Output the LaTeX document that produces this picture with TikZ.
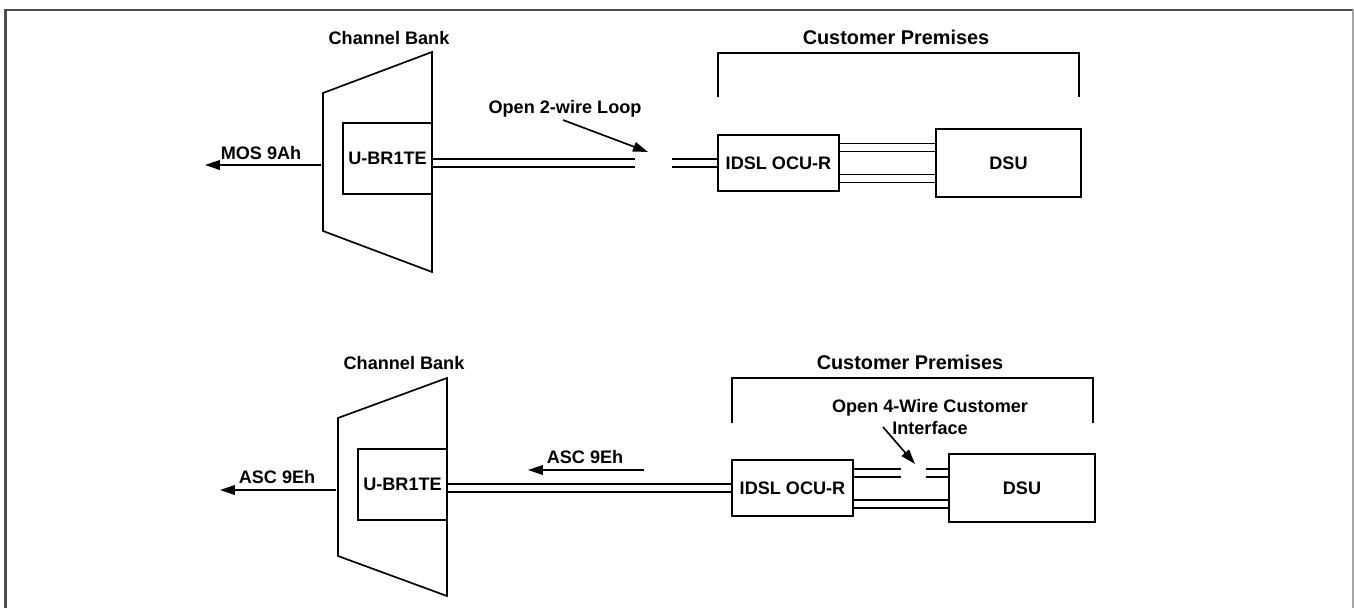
\documentclass[tikz,border=0pt]{standalone}
\usepackage{fontspec}
\setmainfont{Liberation Sans}
\usetikzlibrary{arrows.meta}

\begin{document}
\begin{tikzpicture}[x=0.02cm, y=-0.02cm, line width=0.95pt,
  lbl/.style={font=\fontsize{10.3}{12}\selectfont\bfseries, inner sep=0pt, align=center},
  head/.style={font=\fontsize{11.3}{13}\selectfont\bfseries, inner sep=0pt},
  box/.style={draw, rectangle, inner sep=0pt, font=\fontsize{10.3}{12}\selectfont\bfseries},
  sig/.style={-{Triangle[length=8.5pt,width=5.5pt]}}]
\useasboundingbox (0,0) rectangle (1354,608);

% frame
\draw[line width=1.2pt, black!70] (5.5,608) -- (5.5,10) -- (1353,10);
\draw[line width=1pt, black!35] (1353,10) -- (1353,608);

% ---- top: open 2-wire loop
\draw (323,93) -- (432,52) -- (432,272) -- (323,231) -- cycle;
\node (bank1) at (389,38) [lbl]{Channel Bank};
\node (ubr1) at (387.5,158.5) [box, minimum width=1.78cm, minimum height=1.42cm]{U-BR1TE};
\node (ocu1) at (778.5,163) [box, minimum width=2.42cm, minimum height=1.12cm]{IDSL OCU-R};
\node (dsu1) at (1008.5,163) [box, minimum width=2.9cm, minimum height=1.36cm]{DSU};

\coordinate (cut1a) at (635,163);
\coordinate (cut1b) at (672,163);
\foreach \s in {-4,4} {
  \draw ([yshift=\s*0.02cm]ubr1.east |- cut1a) -- ([yshift=\s*0.02cm]cut1a);
  \draw ([yshift=\s*0.02cm]cut1b) -- ([yshift=\s*0.02cm]ocu1.west);
}
\foreach \s in {-19.5,-11.5,11.5,19.5}
  \draw ([yshift=\s*0.02cm]ocu1.east) -- ([yshift=\s*0.02cm]dsu1.west |- ocu1.east);

\coordinate (mos1s) at (321,165);
\coordinate (mos1e) at (205,165);
\draw[sig] (mos1s) -- (mos1e);
\node (mos1) at (261,153) [lbl]{MOS 9Ah};

\node (loop1) at (565,109) [lbl]{Open 2-wire Loop};
\coordinate (loop1s) at (563,120);
\coordinate (loop1e) at (648,152);
\draw[sig] (loop1s) -- (loop1e);

\draw (718,97) -- (718,53) -- (1079,53) -- (1079,97);
\node (prem1) at (896,37) [head]{Customer Premises};

% ---- bottom: open 4-wire customer interface
\draw (338,418) -- (447,378) -- (447,596) -- (338,556) -- cycle;
\node (bank2) at (404,363) [lbl]{Channel Bank};
\node (ubr2) at (402.5,484.5) [box, minimum width=1.78cm, minimum height=1.42cm]{U-BR1TE};
\node (ocu2) at (792.5,488) [box, minimum width=2.42cm, minimum height=1.12cm]{IDSL OCU-R};
\node (dsu2) at (1022,488) [box, minimum width=2.92cm, minimum height=1.36cm]{DSU};

\coordinate (cut2a) at (901,473);
\coordinate (cut2b) at (926,473);
\foreach \s in {-4,4} {
  \draw ([yshift=\s*0.02cm]ubr2.east |- ocu2.west) -- ([yshift=\s*0.02cm]ocu2.west);
  \draw ([yshift=\s*0.02cm]ocu2.east |- cut2a) -- ([yshift=\s*0.02cm]cut2a);
  \draw ([yshift=\s*0.02cm]cut2b) -- ([yshift=\s*0.02cm]dsu2.west |- cut2b);
}
\foreach \s in {-12,-20}
  \draw ([yshift=\s*0.02cm]ocu2.east) -- ([yshift=\s*0.02cm]dsu2.west |- ocu2.east);

\coordinate (asc2s) at (336,490);
\coordinate (asc2e) at (220,490);
\draw[sig] (asc2s) -- (asc2e);
\node (asc2) at (277,477) [lbl]{ASC 9Eh};

\coordinate (asc3s) at (644,470);
\coordinate (asc3e) at (528,470);
\draw[sig] (asc3s) -- (asc3e);
\node (asc3) at (585,457) [lbl]{ASC 9Eh};

\node (open2) at (930,417) [lbl]{Open 4-Wire Customer\\Interface};
\coordinate (open2s) at (883,427);
\coordinate (open2e) at (915,464);
\draw[sig] (open2s) -- (open2e);

\draw (732,423) -- (732,378) -- (1093,378) -- (1093,423);
\node (prem2) at (910,362) [head]{Customer Premises};
\end{tikzpicture}
\end{document}
